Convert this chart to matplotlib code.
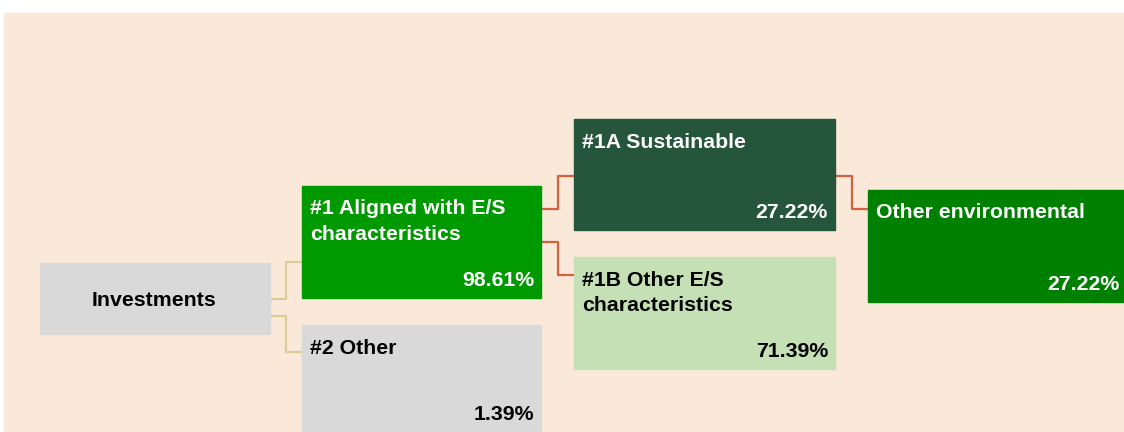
import matplotlib.pyplot as plt
from matplotlib.patches import Rectangle

plt.rcParams['font.family'] = ['Liberation Sans', 'DejaVu Sans']

# tree nodes
labels = ["Investments", "#1 Aligned with E/S\ncharacteristics", "#2 Other",
          "#1A Sustainable", "#1B Other E/S\ncharacteristics", "Other environmental"]
values = [None, 98.61, 1.39, 27.22, 71.39, 27.22]

# layout (pixels): x0, y0, x1, y1 ; fill ; text colour
boxes = [(40, 263, 270, 334), (302, 186, 541, 298), (302, 325, 541, 440),
         (574, 119, 835, 230), (574, 257, 835, 369), (868, 190, 1130, 302)]
fills = ["#d9d9d9", "#009a00", "#d9d9d9", "#25553b", "#c5e0b4", "#008000"]
text_cols = ["black", "white", "black", "white", "black", "white"]

fig = plt.figure(figsize=(11.24, 4.32), dpi=100)
ax = fig.add_axes([0, 0, 1, 1])
ax.set_xlim(0, 1124)
ax.set_ylim(432, 0)
ax.axis("off")

ax.add_patch(Rectangle((4, 13), 1130, 430, color="#fae9d8", zorder=0))

fs = 15.3
for i, (x0, y0, x1, y1) in enumerate(boxes):
    ax.add_patch(Rectangle((x0, y0), x1 - x0, y1 - y0, color=fills[i], zorder=2))
    if values[i] is None:
        ax.text((x0 + x1) / 2 - 1, (y0 + y1) / 2 + 2, labels[i], ha="center", va="center",
                fontsize=fs, fontweight="bold", color=text_cols[i], zorder=3)
        continue
    ax.text(x0 + 8, y0 + 13.5, labels[i], ha="left", va="top", fontsize=fs,
            fontweight="bold", color=text_cols[i], linespacing=1.42, zorder=3)
    xr = min(x1, 1126)
    ybot = min(y1, 432)
    ax.text(xr - 7, ybot - 12, f"{values[i]:.2f}%", ha="right", va="baseline",
            fontsize=fs, fontweight="bold", color=text_cols[i], zorder=3)

tan = "#dccd95"
red = "#d5603f"
connectors = [
    ([270, 286, 286, 302], [299, 299, 262, 262], tan),
    ([270, 286, 286, 302], [316, 316, 352, 352], tan),
    ([541, 558, 558, 574], [209, 209, 176, 176], red),
    ([541, 558, 558, 574], [242, 242, 275, 275], red),
    ([835, 852, 852, 868], [176, 176, 209, 209], red),
]
for xs, ys, c in connectors:
    ax.plot(xs, ys, color=c, lw=1.6, zorder=1)

fig.savefig("out.png", dpi=100)
